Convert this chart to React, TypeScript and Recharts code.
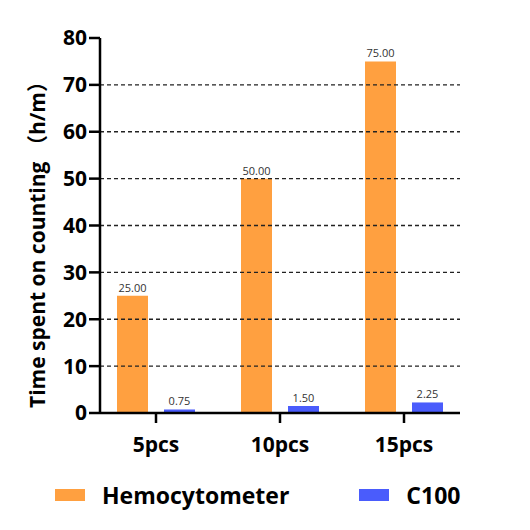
import { BarChart, Bar, XAxis, YAxis, ReferenceLine, LabelList } from "recharts";

const categories = ["5pcs", "10pcs", "15pcs"];
const hemocytometer = [25, 50, 75];
const c100 = [0.75, 1.5, 2.25];
const yTicks = [0, 10, 20, 30, 40, 50, 60, 70, 80];
const gridValues = [10, 20, 30, 40, 50, 60, 70];

const series = [
    { key: "Hemocytometer", color: "#FFA040" },
    { key: "C100", color: "#4A5CFC" },
];

const data = categories.map((name, i) => ({
    name,
    Hemocytometer: hemocytometer[i],
    C100: c100[i],
}));

const font = "'Open Sans', 'Noto Sans CJK SC', sans-serif";

// rotated y axis title
const YTitle = ({ viewBox }: any) => {
    const x = viewBox.x + 37;
    const y = viewBox.y + viewBox.height / 2 + 14;
    return (
        <text
            x={x}
            y={y}
            transform={`rotate(-90, ${x}, ${y})`}
            textAnchor="middle"
            dominantBaseline="central"
            fontFamily={font}
            fontWeight={700}
            fontSize={21}
            fill="#000"
        >
            Time spent on counting （h/m）
        </text>
    );
};

export default function App() {
    return (
        <div style={{ position: "absolute", left: 0, top: 0, width: 530, height: 530, background: "#fff" }}>
            <BarChart
                width={530}
                height={530}
                data={data}
                margin={{ top: 38, right: 70, left: 0, bottom: 37 }}
                barSize={31}
                barGap={16}
            >
                {gridValues.map((v) => (
                    <ReferenceLine key={v} y={v} stroke="#222" strokeWidth={1.3} strokeDasharray="4 3" />
                ))}
                <XAxis
                    dataKey="name"
                    padding={{ left: -6, right: -6 }}
                    axisLine={{ stroke: "#000", strokeWidth: 2.5 }}
                    tickLine={{ stroke: "#000", strokeWidth: 2.5 }}
                    tickSize={10}
                    tickMargin={14}
                    tick={{ fill: "#000", fontSize: 21, fontWeight: 700, fontFamily: font }}
                    height={80}
                />
                <YAxis
                    width={100}
                    domain={[0, 80]}
                    ticks={yTicks}
                    interval={0}
                    axisLine={{ stroke: "#000", strokeWidth: 2.5 }}
                    tickLine={{ stroke: "#000", strokeWidth: 2.5 }}
                    tickSize={11}
                    tickMargin={2}
                    tick={{ fill: "#000", fontSize: 21, fontWeight: 700, fontFamily: font }}
                    label={<YTitle />}
                />
                {series.map((s) => (
                    <Bar key={s.key} dataKey={s.key} fill={s.color} isAnimationActive={false}>
                        <LabelList
                            dataKey={s.key}
                            position="top"
                            offset={4}
                            formatter={(v: any) => Number(v).toFixed(2)}
                            style={{ fill: "#333", fontSize: 11, fontFamily: font }}
                        />
                    </Bar>
                ))}
            </BarChart>
            <div
                style={{
                    position: "absolute",
                    top: 480,
                    left: 0,
                    display: "flex",
                    alignItems: "center",
                    fontFamily: font,
                    fontWeight: 700,
                    fontSize: 23,
                    color: "#000",
                    lineHeight: "30px",
                }}
            >
                {series.map((s, i) => (
                    <div key={s.key} style={{ display: "flex", alignItems: "center", marginLeft: i === 0 ? 55 : 70 }}>
                        <div style={{ width: 30, height: 12, background: s.color, marginRight: 17 }} />
                        <span>{s.key}</span>
                    </div>
                ))}
            </div>
        </div>
    );
}
